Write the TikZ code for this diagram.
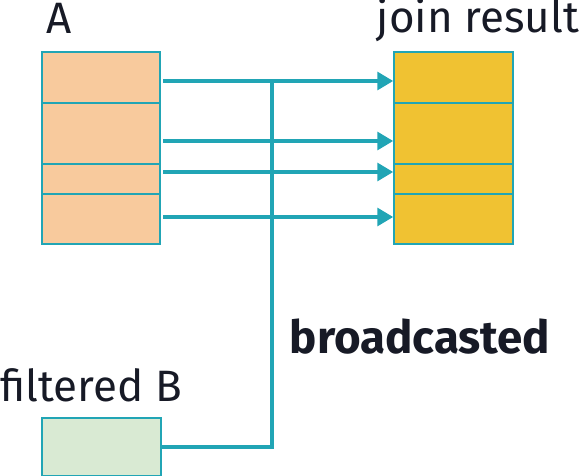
\documentclass[tikz,border=0pt]{standalone}
\usepackage{fontspec}
\setmainfont{Fira Sans}
\usetikzlibrary{arrows.meta,positioning}
\definecolor{ink}{HTML}{171A26}
\definecolor{linkteal}{HTML}{21A5B5}
\definecolor{peach}{HTML}{F8CA9D}
\definecolor{mustard}{HTML}{F0C232}
\definecolor{mint}{HTML}{D9EAD3}
\tikzset{
  tablebox/.style={draw=linkteal,line width=0.9pt,inner sep=0pt},
  rowline/.style={draw=linkteal,line width=1.7pt},
  flowarr/.style={-{Triangle[length=9pt,width=10pt]},draw=linkteal,line width=2.2pt},
  bcast/.style={draw=linkteal,line width=2.2pt},
  lbl/.style={font=\fontsize{25}{28}\selectfont,text=ink,anchor=base,inner sep=0pt}
}

\begin{document}
\begin{tikzpicture}[x=0.02cm,y=-0.02cm]
  \useasboundingbox (0,0) rectangle (581,476);
  % tables
  \node[tablebox,fill=peach,minimum width=2.36cm,minimum height=3.84cm] (A) at (101,148) {};
  \node[tablebox,fill=mustard,minimum width=2.38cm,minimum height=3.84cm] (J) at (453.5,148) {};
  \node[tablebox,fill=mint,minimum width=2.38cm,minimum height=1.16cm] (B) at (101.5,447) {};
  % row borders
  \foreach \y in {103,164,194} {
    \draw[rowline] (A.west |- 0,\y) -- (A.east |- 0,\y);
    \draw[rowline] (J.west |- 0,\y) -- (J.east |- 0,\y);
  }
  % labels
  \node[lbl] (labA) at (59,34) {A};
  \node[lbl] (labJ) at (478,33) {join result};
  \node[lbl] (labB) at (91,401) {filtered B};
  \node[lbl,font=\fontsize{26}{29}\selectfont\bfseries] (labC) at (420,353) {broadcasted};
  % rows of A matched with B
  \coordinate (hub) at (272,81);
  \coordinate (foot) at (272,447);
  \foreach \n/\y in {1/81,2/141,3/172,4/217} {
    \coordinate (s\n) at (163,\y);
    \coordinate (t\n) at (J.west |- 0,\y);
    \draw[flowarr] (s\n) -- (t\n);
  }
  \draw[bcast] (B.east |- foot) -- (foot) -- (hub);
\end{tikzpicture}
\end{document}
